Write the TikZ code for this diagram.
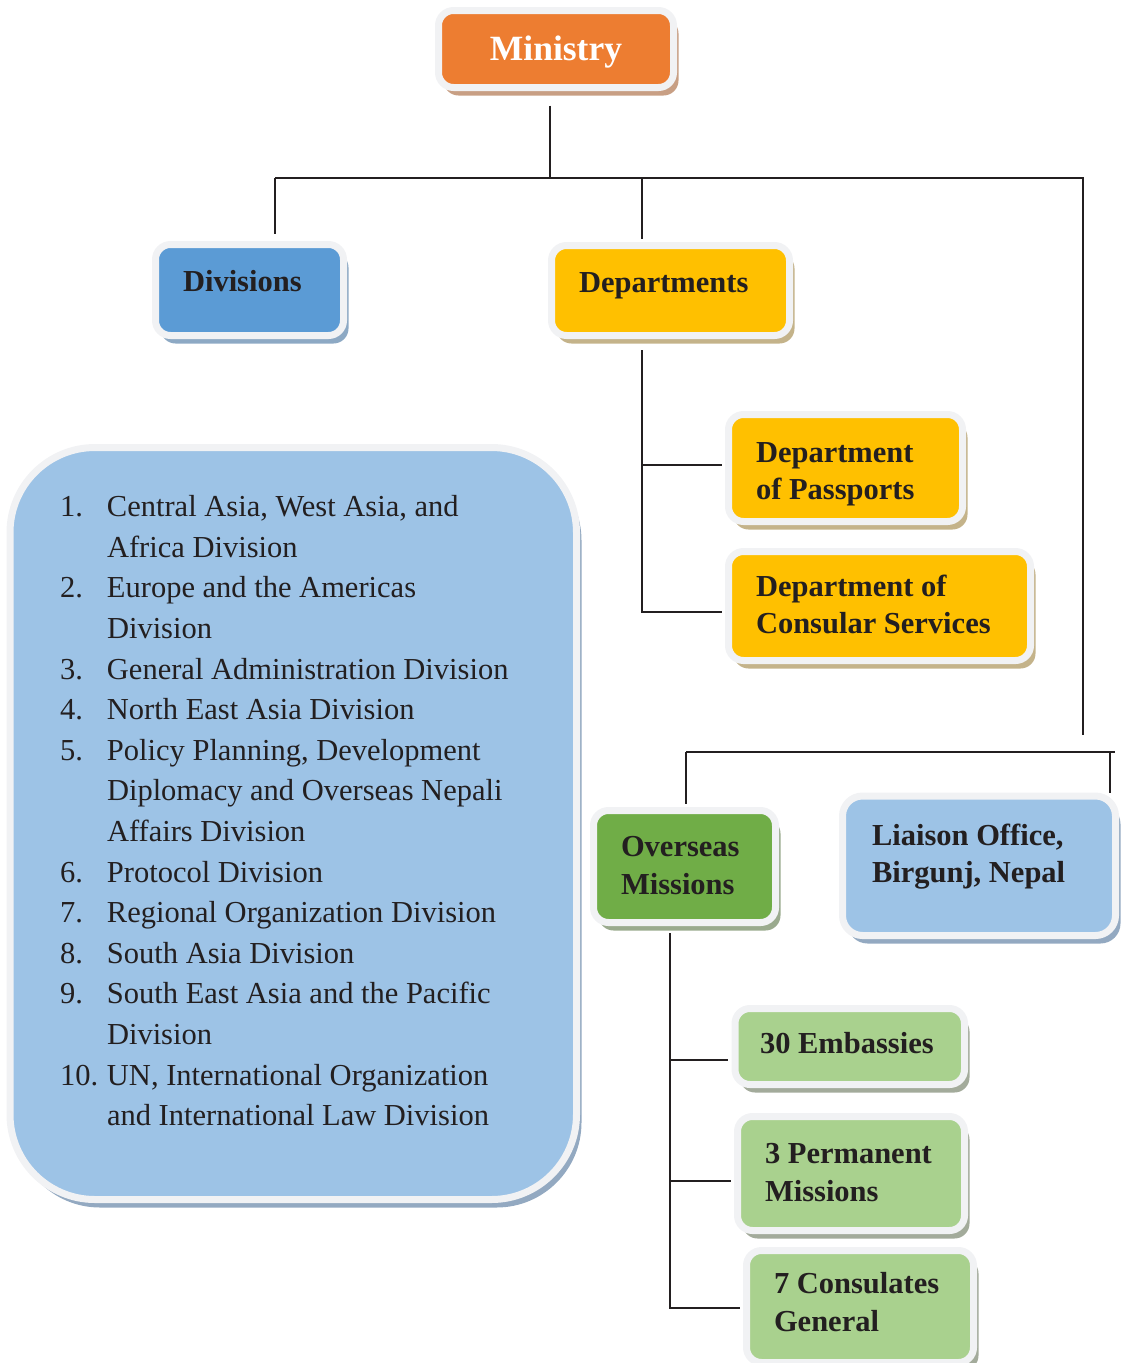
\documentclass[tikz,border=0pt]{standalone}
\usepackage{fontspec}
\setmainfont{Liberation Serif}
\usetikzlibrary{calc,shadows}
\definecolor{ministryfill}{HTML}{ED7D31}
\definecolor{ministryshade}{HTML}{C89F84}
\definecolor{divfill}{HTML}{5B9BD5}
\definecolor{divshade}{HTML}{8DA9C4}
\definecolor{deptfill}{HTML}{FFC000}
\definecolor{deptshade}{HTML}{C4B38A}
\definecolor{listfill}{HTML}{9DC3E6}
\definecolor{listshade}{HTML}{93A9C1}
\definecolor{missionfill}{HTML}{70AD47}
\definecolor{missionshade}{HTML}{9AAA8E}
\definecolor{postfill}{HTML}{A9D18E}
\definecolor{postshade}{HTML}{A3AB9B}
\definecolor{rim}{HTML}{F1F2F4}
\definecolor{ink}{HTML}{231F20}
\newcommand{\divnum}[1]{\makebox[47pt][l]{#1}}
\newcommand{\divcont}{\hspace*{47pt}}
\frenchspacing

\begin{document}
\begin{tikzpicture}[x=1pt,y=-1pt,
 box/.style={draw=rim,line width=7pt,rounded corners=15pt,align=flush left,inner ysep=0pt,text=ink,
   font=\fontsize{30.5}{37.5}\selectfont\bfseries,text height=22pt},
 dims/.style n args={3}{minimum width=#1pt,minimum height=#2pt,inner xsep=#3pt,text width=#1pt-2*#3pt},
 cast/.style={drop shadow={shadow xshift=5pt,shadow yshift=-8pt,fill=#1,opacity=1}},
 link/.style={draw=ink,line width=2.2pt}]
\useasboundingbox (0,0) rectangle (1121,1363);

\node[box,fill=ministryfill,cast=ministryshade,dims={235}{77}{10},align=flush center,text=white,
  font=\fontsize{35.5}{40}\selectfont\bfseries,text height=25pt,text depth=3pt] (ministry) at (556,49) {Ministry};
\node[box,fill=divfill,cast=divshade,dims={188}{91}{27.5},text depth=18.6pt] (divisions) at (249.5,290) {Divisions};
\node[box,fill=deptfill,cast=deptshade,dims={238}{90}{27.5},text depth=17.6pt] (departments) at (670.5,290.5) {Departments};
\node[box,fill=deptfill,cast=deptshade,dims={234}{107}{27.5},text depth=33.5pt] (passports) at (845.5,468) {Department\\of Passports};
\node[box,fill=deptfill,cast=deptshade,dims={302}{109}{27.5},text depth=41.5pt] (consular) at (879.5,606) {Department of\\Consular Services};
\node[box,fill=missionfill,cast=missionshade,dims={182}{112}{27.5},text depth=41.5pt] (overseas) at (684.5,866.5) {Overseas\\Missions};
\node[box,fill=listfill,cast=listshade,rounded corners=20pt,dims={273}{139.5}{29.5},text depth=63.5pt] (liaison) at (979,865.75) {Liaison Office,\\Birgunj, Nepal};
\node[box,fill=postfill,cast=postshade,dims={229.5}{76}{25},text depth=8pt] (embassies) at (849.75,1046.5) {30 Embassies};
\node[box,fill=postfill,cast=postshade,dims={227}{114}{27.5},text depth=41.5pt] (permanent) at (851,1173.5) {3 Permanent\\Missions};
\node[box,fill=postfill,cast=postshade,dims={227}{112}{27.5},text depth=47.5pt] (consulates) at (860,1306.5) {7 Consulates\\General};

% list of divisions
\node[box,fill=listfill,cast=listshade,rounded corners=85pt,dims={566.5}{752}{50},
  font=\fontsize{30.5}{40.6}\selectfont,text depth=635.6pt] (divlist) at (293.25,823.5) {%
\divnum{1.}Central Asia, West Asia, and\\
\divcont Africa Division\\
\divnum{2.}Europe and the Americas\\
\divcont Division\\
\divnum{3.}General Administration Division\\
\divnum{4.}North East Asia Division\\
\divnum{5.}Policy Planning, Development\\
\divcont Diplomacy and Overseas Nepali\\
\divcont Affairs Division\\
\divnum{6.}Protocol Division\\
\divnum{7.}Regional Organization Division\\
\divnum{8.}South Asia Division\\
\divnum{9.}South East Asia and the Pacific\\
\divcont Division\\
\divnum{10.}UN, International Organization\\
\divcont and International Law Division};

% junctions
\coordinate (busM) at (550,178);
\coordinate (busW) at (275,178);
\coordinate (busD) at (642,178);
\coordinate (busE) at (1083,178);
\coordinate (trunkend) at (1083,735);
\coordinate (deptstem) at (642,350);
\coordinate (splitW) at (686,752);
\coordinate (splitL) at (1110,752);
\coordinate (splitE) at (1115,752);
\coordinate (missionstem) at (670,933);

\draw[link] ([xshift=-6pt,yshift=-14.5pt]ministry.south) -- (busM);
\draw[link] (busW) -- (busE) -- (trunkend);
\draw[link] (busW) -- ($(busW |- divisions.north)+(0,-7.5)$);
\draw[link,shorten >=3.5pt] (busD) -- (busD |- departments.north);
\draw[link,shorten >=3.5pt] (deptstem) |- ($(passports.west)+(0,-3)$);
\draw[link,shorten >=3.5pt] (deptstem) |- ($(consular.west)+(0,6)$);
\draw[link] (splitW) -- (splitE);
\draw[link,shorten >=3.5pt] (splitW) -- (splitW |- overseas.north);
\draw[link] (splitL) -- (splitL |- liaison.north);
\draw[link,shorten >=3.5pt] (missionstem) |- ($(embassies.west)+(0,13.5)$);
\draw[link,shorten >=3.5pt] (missionstem) |- ($(permanent.west)+(0,7.5)$);
\draw[link,shorten >=3.5pt] (missionstem) |- ($(consulates.west)+(0,1.5)$);
\end{tikzpicture}
\end{document}
